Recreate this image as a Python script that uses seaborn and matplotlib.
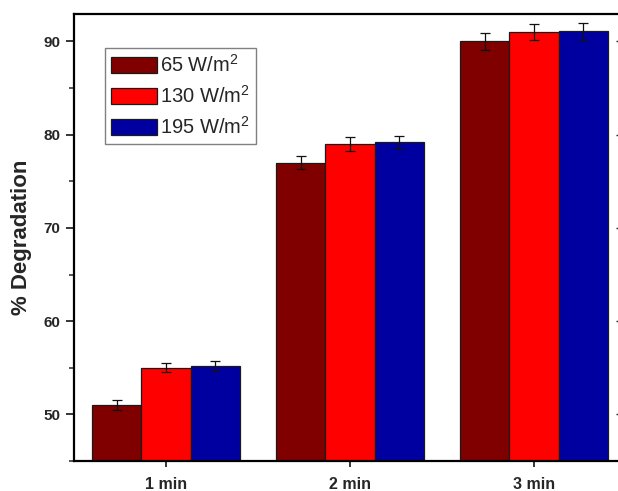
import matplotlib
matplotlib.use("Agg")
import matplotlib.pyplot as plt
import seaborn as sns
import pandas as pd
from matplotlib.ticker import MultipleLocator

# Degradation after irradiation at three intensities
times = ["1 min", "2 min", "3 min"]
intensities = ["65 W/m$^2$", "130 W/m$^2$", "195 W/m$^2$"]
deg_65 = [51.0, 77.0, 90.0]
deg_130 = [55.0, 79.0, 91.0]
deg_195 = [55.2, 79.2, 91.1]
err_65 = [0.5, 0.68, 0.94]
err_130 = [0.5, 0.7, 0.88]
err_195 = [0.5, 0.7, 0.9]
colors = ["#800000", "#FF0000", "#0000A0"]

values = [deg_65, deg_130, deg_195]
errors = [err_65, err_130, err_195]

df = pd.DataFrame({
    "time": [t for _ in intensities for t in times],
    "intensity": [lab for lab in intensities for _ in times],
    "deg": [v for series in values for v in series],
})

sns.set_theme(style="ticks")
plt.rcParams["font.family"] = ["Liberation Sans", "DejaVu Sans"]
plt.rcParams["mathtext.fontset"] = "custom"
plt.rcParams["mathtext.rm"] = "Liberation Sans"
plt.rcParams["mathtext.it"] = "Liberation Sans:italic"
plt.rcParams["mathtext.bf"] = "Liberation Sans:bold"

fig = plt.figure(figsize=(6.18, 4.91), dpi=100)
ax = fig.add_axes([74 / 618, 30 / 491, 552 / 618, 447.5 / 491])

sns.barplot(data=df, x="time", y="deg", hue="intensity", order=times,
            hue_order=intensities, palette=colors, width=0.8,
            edgecolor="#1a1a1a", linewidth=0.9, saturation=1,
            errorbar=None, legend=False, ax=ax)

# error bars on top of each bar
for cont, err in zip(ax.containers, errors):
    xs = [p.get_x() + p.get_width() / 2 for p in cont.patches]
    ys = [p.get_y() + p.get_height() for p in cont.patches]
    ax.errorbar(xs, ys, yerr=err, fmt="none", ecolor="#111111",
                elinewidth=0.9, capsize=3.5, capthick=0.9, zorder=5)

ax.set_ylim(45, 93)
ax.set_xlim(-0.5, 2.5)
ax.yaxis.set_major_locator(MultipleLocator(10))
ax.yaxis.set_minor_locator(MultipleLocator(5))
ax.set_xlabel("")
ax.set_ylabel("% Degradation", fontsize=16, fontweight="bold", labelpad=8)

for side in ["left", "right", "top", "bottom"]:
    ax.spines[side].set_visible(True)
    ax.spines[side].set_linewidth(1.6)
    ax.spines[side].set_color("black")

ax.tick_params(axis="y", which="major", direction="out", length=6, width=1.3,
               labelsize=11, pad=4, left=True, right=False)
ax.tick_params(axis="y", which="minor", direction="out", length=3.5, width=1.1,
               left=True, right=False)
ax.tick_params(axis="x", which="major", direction="out", length=4.5, width=1.3,
               labelsize=11.5, pad=7, top=False)
for lab in ax.get_yticklabels() + ax.get_xticklabels():
    lab.set_fontweight("bold")

# mirrored inward major ticks on the right side
sec = ax.secondary_yaxis("right")
sec.yaxis.set_major_locator(MultipleLocator(10))
sec.tick_params(which="major", direction="in", length=7.5, width=1.0, labelright=False)
sec.tick_params(which="minor", length=0, labelright=False)
sec.spines["right"].set_linewidth(1.6)

handles = [plt.Rectangle((0, 0), 1, 1, facecolor=c, edgecolor="#1a1a1a", linewidth=0.9)
           for c in colors]
leg = ax.legend(handles, intensities, loc="upper left",
                bbox_to_anchor=(105 / 618, 1 - 48 / 491), bbox_transform=fig.transFigure,
                fontsize=14.5, frameon=True, fancybox=False, framealpha=1,
                edgecolor="#808080", handlelength=2.3, handleheight=0.9,
                handletextpad=0.15, labelspacing=0.45, borderpad=0.3,
                borderaxespad=0)
leg.get_frame().set_linewidth(1.0)

fig.savefig("out.png", dpi=100)
